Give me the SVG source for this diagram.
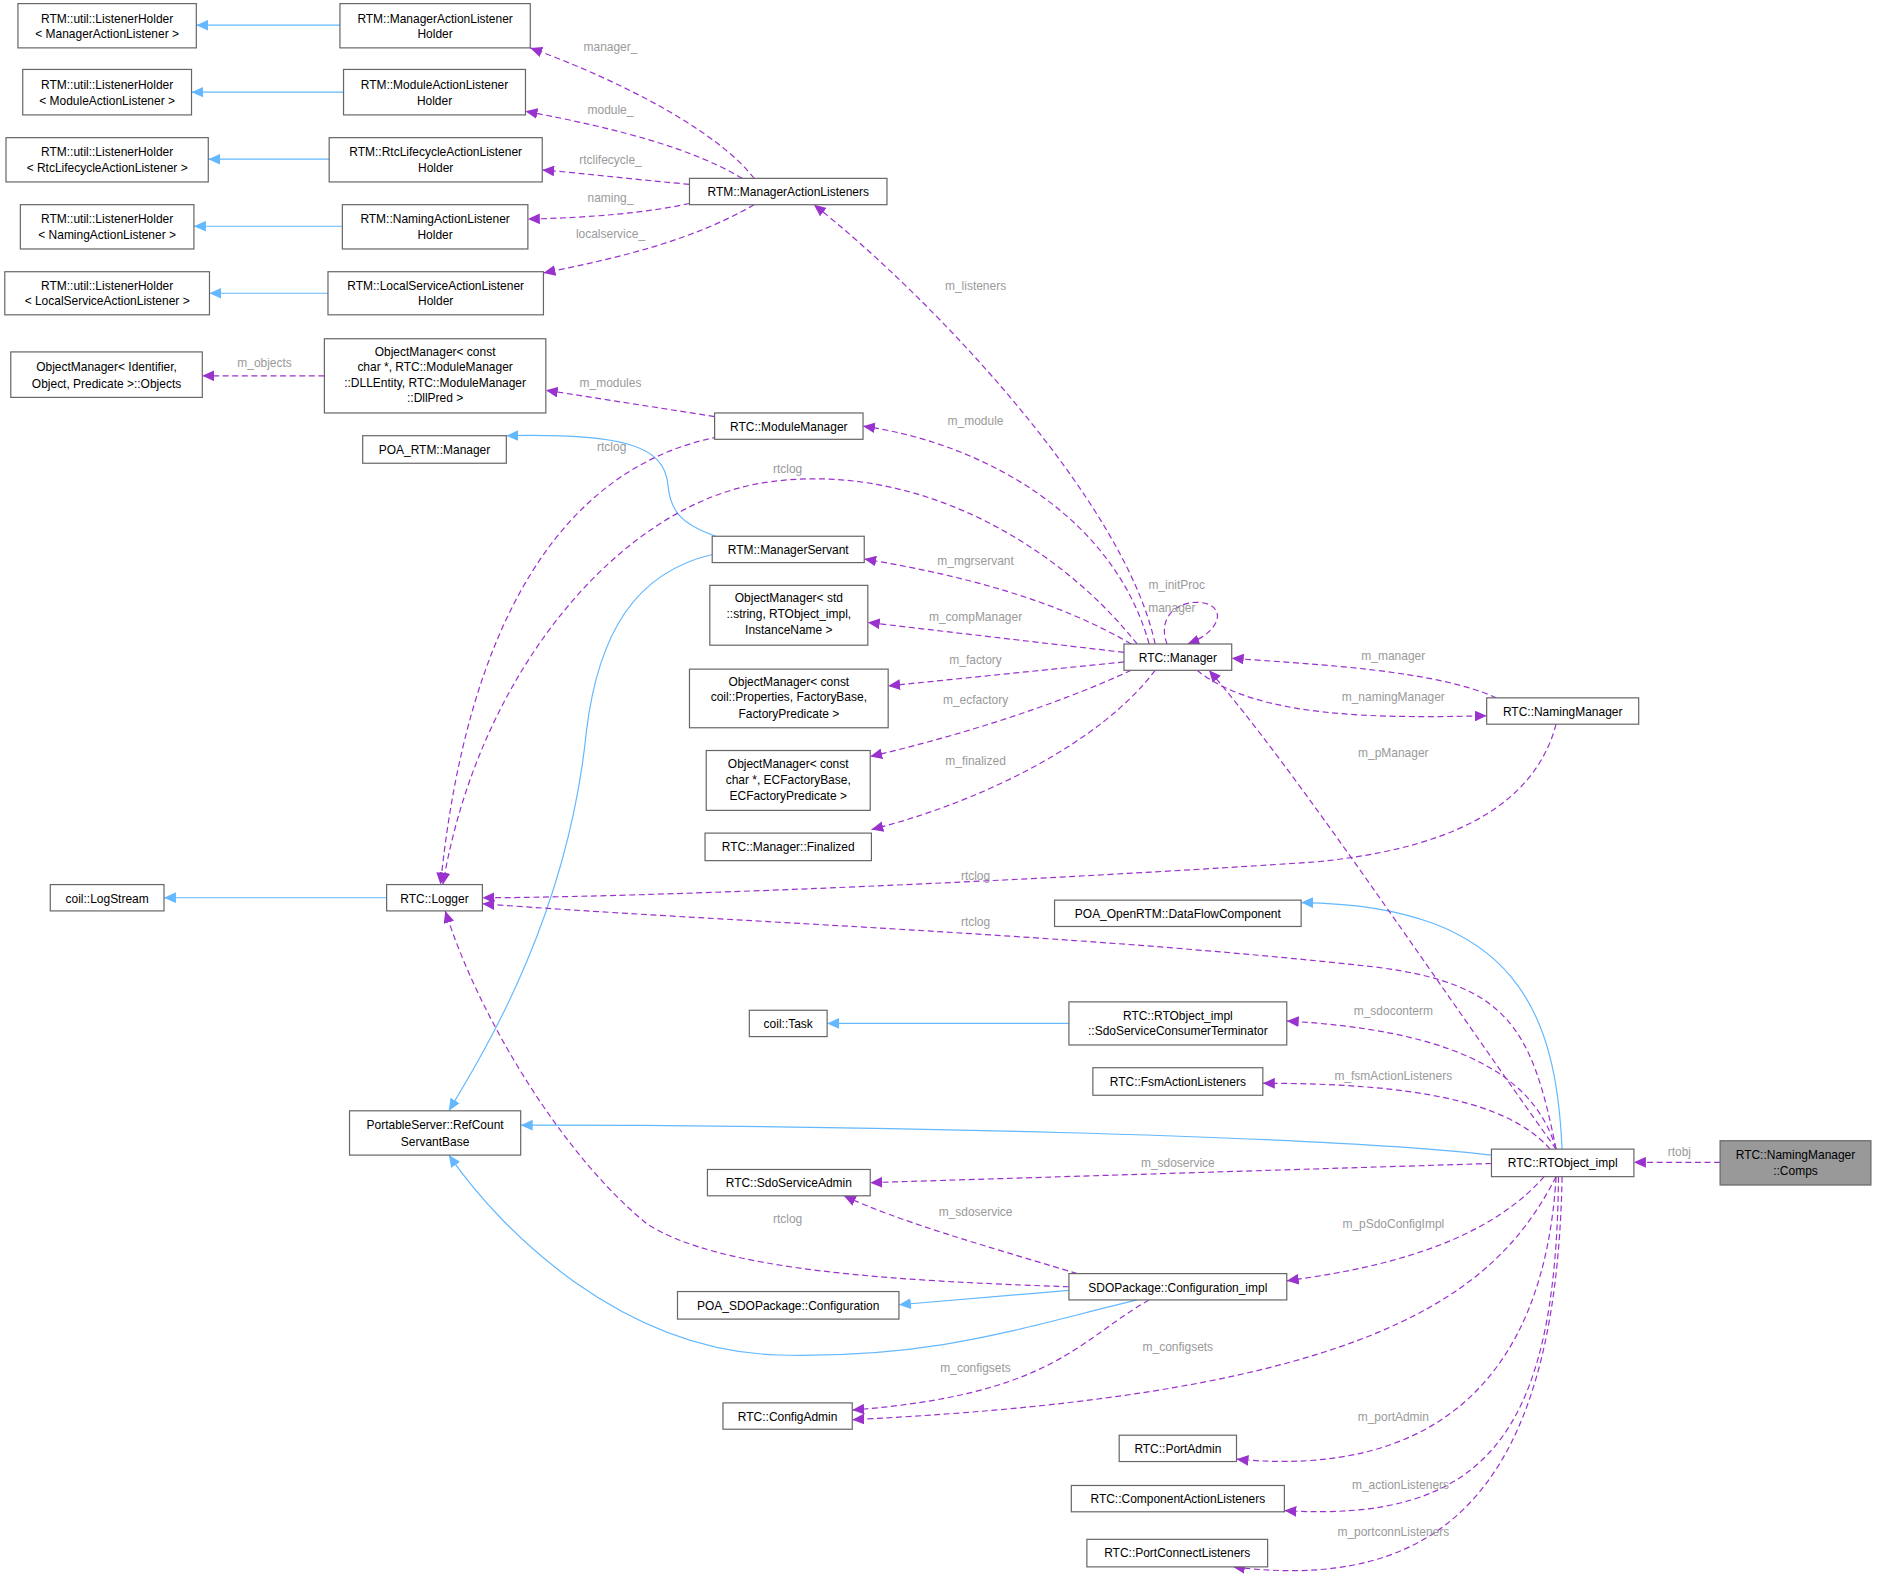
<svg xmlns="http://www.w3.org/2000/svg" width="1877" height="1589" viewBox="0 0 1877 1589">
<style>
.n rect{fill:#fff;stroke:#666;stroke-width:1}
.n text{font-family:"Liberation Sans",Arial,sans-serif;font-size:10px;fill:#000;text-anchor:middle}
.b{fill:none;stroke:#63b8ff;stroke-width:1}
.p{fill:none;stroke:#9a32cd;stroke-width:1;stroke-dasharray:5,3}
.l{font-family:"Liberation Sans",Arial,sans-serif;font-size:10px;fill:#9a9a9a;text-anchor:middle}
</style>
<defs>
<marker id="ab" markerUnits="userSpaceOnUse" markerWidth="11" markerHeight="9" refX="10" refY="4.5" orient="auto"><path d="M0,0 L10,4.5 L0,9 z" fill="#63b8ff"/></marker>
<marker id="ap" markerUnits="userSpaceOnUse" markerWidth="11" markerHeight="9" refX="10" refY="4.5" orient="auto"><path d="M0,0 L10,4.5 L0,9 z" fill="#9a32cd"/></marker>
</defs>
<rect width="1877" height="1589" fill="#fff"/>
<g transform="scale(1.197)">
<g id="edges">
<path class="b" marker-end="url(#ab)" d="M284,21 L164,21"/>
<path class="b" marker-end="url(#ab)" d="M287,77 L160,77"/>
<path class="b" marker-end="url(#ab)" d="M275,133 L174,133"/>
<path class="b" marker-end="url(#ab)" d="M286,189 L162,189"/>
<path class="b" marker-end="url(#ab)" d="M274,245 L175,245"/>
<path class="b" marker-end="url(#ab)" d="M323,750 L137,750"/>
<path class="b" marker-end="url(#ab)" d="M598,448 C570,438 560,428 558,405 C555,372 520,362 423,364"/>
<path class="b" marker-end="url(#ab)" d="M596,463 C530,478 500,530 490,610 C475,760 410,870 375,928"/>
<path class="b" marker-end="url(#ab)" d="M1305,960 C1300,850 1270,756 1087,754"/>
<path class="b" marker-end="url(#ab)" d="M893,855 L691,855"/>
<path class="b" marker-end="url(#ab)" d="M1246,965 C1100,948 700,940 435,940"/>
<path class="b" marker-end="url(#ab)" d="M893,1078 L751,1090"/>
<path class="b" marker-end="url(#ab)" d="M950,1086 C850,1110 780,1135 650,1132 C520,1128 420,1030 375,965"/>

<path class="p" marker-end="url(#ap)" d="M630,149 C600,110 520,68 443,40"/><text class="l" x="510" y="43">manager_</text>
<path class="p" marker-end="url(#ap)" d="M620,149 C580,125 520,108 439,93"/><text class="l" x="510" y="95">module_</text>
<path class="p" marker-end="url(#ap)" d="M576,154 C530,150 490,145 453,142"/><text class="l" x="510" y="137">rtclifecycle_</text>
<path class="p" marker-end="url(#ap)" d="M576,170 C540,178 490,182 441,183"/><text class="l" x="510" y="169">naming_</text>
<path class="p" marker-end="url(#ap)" d="M630,171 C580,200 520,215 454,228"/><text class="l" x="510" y="199">localservice_</text>
<path class="p" marker-end="url(#ap)" d="M965,538 C940,420 780,250 680,171"/><text class="l" x="815" y="242">m_listeners</text>
<path class="p" marker-end="url(#ap)" d="M271,314 L169,314"/><text class="l" x="221" y="307">m_objects</text>
<path class="p" marker-end="url(#ap)" d="M597,348 L456,326"/><text class="l" x="510" y="323">m_modules</text>
<path class="p" marker-end="url(#ap)" d="M960,538 C930,430 820,370 721,356"/><text class="l" x="815" y="355">m_module</text>
<path class="p" marker-end="url(#ap)" d="M600,365 C470,390 390,520 368,739"/><text class="l" x="511" y="377">rtclog</text>
<path class="p" marker-end="url(#ap)" d="M950,538 C880,450 760,385 640,403 C520,420 400,560 370,739"/><text class="l" x="658" y="395">rtclog</text>
<path class="p" marker-end="url(#ap)" d="M945,538 C880,500 800,480 722,467"/><text class="l" x="815" y="472">m_mgrservant</text>
<path class="p" marker-end="url(#ap)" d="M939,545 L725,520"/><text class="l" x="815" y="519">m_compManager</text>
<path class="p" marker-end="url(#ap)" d="M939,553 L742,573"/><text class="l" x="815" y="555">m_factory</text>
<path class="p" marker-end="url(#ap)" d="M945,560 C880,590 800,615 727,632"/><text class="l" x="815" y="588">m_ecfactory</text>
<path class="p" marker-end="url(#ap)" d="M965,560 C920,620 820,670 728,693"/><text class="l" x="815" y="639">m_finalized</text>
<path class="p" marker-end="url(#ap)" d="M975,538 C965,512 990,498 1010,505 C1025,512 1015,530 992,538"/><text class="l" x="983" y="492">m_initProc</text><text class="l" x="979" y="511">manager</text>
<path class="p" marker-end="url(#ap)" d="M1250,583 C1200,560 1100,555 1029,550"/><text class="l" x="1164" y="551">m_manager</text>
<path class="p" marker-end="url(#ap)" d="M1000,560 C1050,600 1150,600 1242,598"/><text class="l" x="1164" y="586">m_namingManager</text>
<path class="p" marker-end="url(#ap)" d="M1300,960 C1200,820 1080,640 1010,560"/><text class="l" x="1164" y="632">m_pManager</text>
<path class="p" marker-end="url(#ap)" d="M1300,605 C1280,680 1200,710 1100,720 C800,740 500,750 403,750"/><text class="l" x="815" y="735">rtclog</text>
<path class="p" marker-end="url(#ap)" d="M1300,960 C1280,860 1260,822 1150,808 C900,780 600,770 403,755"/><text class="l" x="815" y="774">rtclog</text>
<path class="p" marker-end="url(#ap)" d="M1300,960 C1280,890 1200,860 1075,853"/><text class="l" x="1164" y="848">m_sdoconterm</text>
<path class="p" marker-end="url(#ap)" d="M1295,960 C1260,920 1180,905 1055,905"/><text class="l" x="1164" y="902">m_fsmActionListeners</text>
<path class="p" marker-end="url(#ap)" d="M1246,972 L727,988"/><text class="l" x="984" y="975">m_sdoservice</text>
<path class="p" marker-end="url(#ap)" d="M900,1064 C820,1040 750,1020 705,999"/><text class="l" x="815" y="1016">m_sdoservice</text>
<path class="p" marker-end="url(#ap)" d="M893,1075 C750,1070 600,1062 540,1022 C470,965 400,850 372,761"/><text class="l" x="658" y="1022">rtclog</text>
<path class="p" marker-end="url(#ap)" d="M1290,983 C1240,1040 1150,1060 1075,1070"/><text class="l" x="1164" y="1026">m_pSdoConfigImpl</text>
<path class="p" marker-end="url(#ap)" d="M960,1086 C900,1120 880,1165 712,1178"/><text class="l" x="815" y="1146">m_configsets</text>
<path class="p" marker-end="url(#ap)" d="M1300,983 C1250,1080 1150,1165 712,1186"/><text class="l" x="984" y="1129">m_configsets</text>
<path class="p" marker-end="url(#ap)" d="M1300,983 C1290,1150 1200,1235 1033,1219"/><text class="l" x="1164" y="1187">m_portAdmin</text>
<path class="p" marker-end="url(#ap)" d="M1302,983 C1300,1200 1240,1272 1073,1262"/><text class="l" x="1170" y="1244">m_actionListeners</text>
<path class="p" marker-end="url(#ap)" d="M1305,983 C1300,1250 1200,1330 1030,1309"/><text class="l" x="1164" y="1283">m_portconnListeners</text>
<path class="p" marker-end="url(#ap)" d="M1437,971 L1365,971"/><text class="l" x="1403" y="966">rtobj</text>
</g>

<g id="lh_manager" class="n"><rect x="15" y="3" width="149" height="37"/><text x="89.5" y="19">RTM::util::ListenerHolder</text><text x="89.5" y="32">&lt; ManagerActionListener &gt;</text></g>
<g id="lh_module" class="n"><rect x="19" y="58" width="141" height="38"/><text x="89.5" y="74">RTM::util::ListenerHolder</text><text x="89.5" y="88">&lt; ModuleActionListener &gt;</text></g>
<g id="lh_rtc" class="n"><rect x="5" y="115" width="169" height="37"/><text x="89.5" y="130">RTM::util::ListenerHolder</text><text x="89.5" y="144">&lt; RtcLifecycleActionListener &gt;</text></g>
<g id="lh_naming" class="n"><rect x="17" y="171" width="145" height="37"/><text x="89.5" y="186">RTM::util::ListenerHolder</text><text x="89.5" y="200">&lt; NamingActionListener &gt;</text></g>
<g id="lh_local" class="n"><rect x="4" y="227" width="171" height="36"/><text x="89.5" y="242">RTM::util::ListenerHolder</text><text x="89.5" y="255">&lt; LocalServiceActionListener &gt;</text></g>
<g id="malh" class="n"><rect x="284" y="3" width="159" height="37"/><text x="363.5" y="19">RTM::ManagerActionListener</text><text x="363.5" y="32">Holder</text></g>
<g id="modalh" class="n"><rect x="287" y="58" width="152" height="38"/><text x="363" y="74">RTM::ModuleActionListener</text><text x="363" y="88">Holder</text></g>
<g id="rtcalh" class="n"><rect x="275" y="115" width="178" height="37"/><text x="364" y="130">RTM::RtcLifecycleActionListener</text><text x="364" y="144">Holder</text></g>
<g id="nalh" class="n"><rect x="286" y="171" width="155" height="37"/><text x="363.5" y="186">RTM::NamingActionListener</text><text x="363.5" y="200">Holder</text></g>
<g id="lsalh" class="n"><rect x="274" y="227" width="180" height="36"/><text x="364" y="242">RTM::LocalServiceActionListener</text><text x="364" y="255">Holder</text></g>
<g id="mal" class="n"><rect x="576" y="149" width="165" height="22"/><text x="658.5" y="164">RTM::ManagerActionListeners</text></g>
<g id="omobjects" class="n"><rect x="9" y="294" width="160" height="38"/><text x="89" y="310">ObjectManager&lt; Identifier,</text><text x="89" y="324">Object, Predicate &gt;::Objects</text></g>
<g id="omdll" class="n"><rect x="271" y="283" width="185" height="62"/><text x="363.5" y="297">ObjectManager&lt; const</text><text x="363.5" y="310">char *, RTC::ModuleManager</text><text x="363.5" y="323">::DLLEntity, RTC::ModuleManager</text><text x="363.5" y="336">::DllPred &gt;</text></g>
<g id="modulemanager" class="n"><rect x="597" y="345" width="124" height="22"/><text x="659" y="360">RTC::ModuleManager</text></g>
<g id="poa_rtm" class="n"><rect x="303" y="364" width="120" height="23"/><text x="363" y="379">POA_RTM::Manager</text></g>
<g id="managerservant" class="n"><rect x="595" y="448" width="127" height="22"/><text x="658.5" y="463">RTM::ManagerServant</text></g>
<g id="omstd" class="n"><rect x="593" y="489" width="132" height="50"/><text x="659" y="503">ObjectManager&lt; std</text><text x="659" y="516">::string, RTObject_impl,</text><text x="659" y="530">InstanceName &gt;</text></g>
<g id="omprops" class="n"><rect x="576" y="559" width="166" height="49"/><text x="659" y="573">ObjectManager&lt; const</text><text x="659" y="586">coil::Properties, FactoryBase,</text><text x="659" y="600">FactoryPredicate &gt;</text></g>
<g id="omec" class="n"><rect x="590" y="627" width="137" height="50"/><text x="658.5" y="642">ObjectManager&lt; const</text><text x="658.5" y="655">char *, ECFactoryBase,</text><text x="658.5" y="668">ECFactoryPredicate &gt;</text></g>
<g id="finalized" class="n"><rect x="589" y="696" width="139" height="23"/><text x="658.5" y="711">RTC::Manager::Finalized</text></g>
<g id="manager" class="n"><rect x="939" y="538" width="90" height="22"/><text x="984" y="553">RTC::Manager</text></g>
<g id="namingmanager" class="n"><rect x="1242" y="583" width="127" height="22"/><text x="1305.5" y="598">RTC::NamingManager</text></g>
<g id="logstream" class="n"><rect x="42" y="739" width="95" height="22"/><text x="89.5" y="754">coil::LogStream</text></g>
<g id="logger" class="n"><rect x="323" y="739" width="80" height="22"/><text x="363" y="754">RTC::Logger</text></g>
<g id="poa_dfc" class="n"><rect x="881" y="752" width="206" height="22"/><text x="984" y="767">POA_OpenRTM::DataFlowComponent</text></g>
<g id="task" class="n"><rect x="626" y="844" width="65" height="22"/><text x="658.5" y="859">coil::Task</text></g>
<g id="sdoterm" class="n"><rect x="893" y="837" width="182" height="36"/><text x="984" y="852">RTC::RTObject_impl</text><text x="984" y="865">::SdoServiceConsumerTerminator</text></g>
<g id="fsmal" class="n"><rect x="913" y="892" width="142" height="23"/><text x="984" y="907">RTC::FsmActionListeners</text></g>
<g id="refcount" class="n"><rect x="292" y="928" width="143" height="37"/><text x="363.5" y="943">PortableServer::RefCount</text><text x="363.5" y="957">ServantBase</text></g>
<g id="rtobject" class="n"><rect x="1246" y="960" width="119" height="23"/><text x="1305.5" y="975">RTC::RTObject_impl</text></g>
<g id="comps" class="n"><rect x="1437" y="953" width="126" height="37" style="fill:#999"/><text x="1500" y="968">RTC::NamingManager</text><text x="1500" y="982">::Comps</text></g>
<g id="sdoadmin" class="n"><rect x="591" y="977" width="136" height="22"/><text x="659" y="992">RTC::SdoServiceAdmin</text></g>
<g id="configimpl" class="n"><rect x="893" y="1064" width="182" height="22"/><text x="984" y="1079">SDOPackage::Configuration_impl</text></g>
<g id="poa_sdoconfig" class="n"><rect x="566" y="1079" width="185" height="23"/><text x="658.5" y="1094">POA_SDOPackage::Configuration</text></g>
<g id="configadmin" class="n"><rect x="604" y="1172" width="108" height="22"/><text x="658" y="1187">RTC::ConfigAdmin</text></g>
<g id="portadmin" class="n"><rect x="935" y="1199" width="98" height="22"/><text x="984" y="1214">RTC::PortAdmin</text></g>
<g id="compal" class="n"><rect x="895" y="1241" width="178" height="22"/><text x="984" y="1256">RTC::ComponentActionListeners</text></g>
<g id="portconnl" class="n"><rect x="908" y="1286" width="151" height="23"/><text x="983.5" y="1301">RTC::PortConnectListeners</text></g>
</g>
</svg>
